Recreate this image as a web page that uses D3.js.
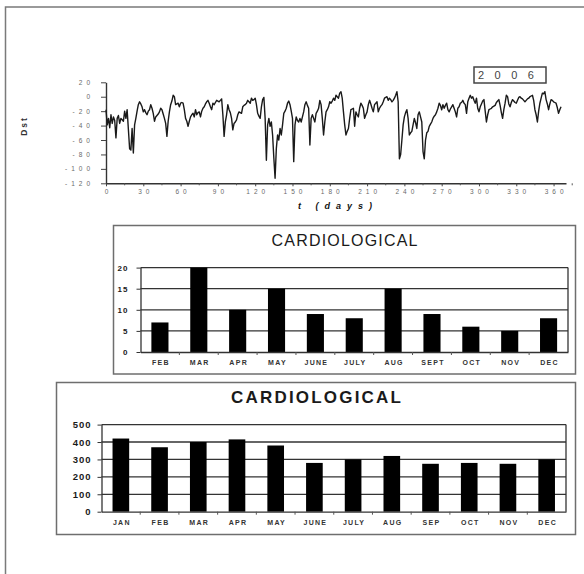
<!DOCTYPE html>
<html>
<head>
<meta charset="utf-8">
<script src="https://cdn.jsdelivr.net/npm/d3@7"></script>
<style>
body { margin: 0; background: #fff; }
svg { display: block; font-family: "Liberation Sans", Arial, sans-serif; }
</style>
</head>
<body>
<div id="chart"></div>
<script>
"use strict";

// daily Dst values for 2006, index = day
const dstValues = [
  -18,-39,-30,-43,-25,-37,-28,-33,-57,-30,
  -26,-37,-30,-32,-34,-20,-30,-18,-45,-72,
  -74,-44,-78,-39,-30,-20,-11,-7,-10,-14,
  -21,-18,-22,-25,-20,-18,-11,-16,-23,-34,
  -28,-26,-24,-21,-16,-18,-24,-30,-37,-55,
  -34,-21,-11,-6,2,0,-11,-10,-9,-14,
  -9,-8,-9,-18,-30,-34,-41,-34,-28,-25,
  -23,-28,-18,-25,-22,-21,-28,-20,-16,-14,
  -10,-7,-5,-9,-14,-18,-9,-11,-8,-5,
  -6,-7,-5,-3,-25,-55,-35,-25,-11,-18,
  -22,-30,-46,-37,-35,-32,-25,-21,-22,-23,
  -14,-12,-11,-9,-5,-7,-9,-2,-5,-4,
  -2,-11,-23,-27,-30,-14,-4,-1,-30,-88,
  -39,-30,-41,-35,-53,-85,-113,-72,-53,-60,
  -44,-53,-39,-23,-20,-16,-9,-6,-11,-20,
  -30,-90,-39,-28,-33,-35,-30,-35,-28,-21,
  -11,-7,-12,-16,-67,-30,-25,-30,-35,-23,
  -20,-16,-5,-11,-30,-53,-35,-21,-18,-14,
  -7,-9,-6,-2,-5,2,0,-2,5,7,
  -2,-21,-39,-53,-48,-44,-30,-18,-17,-16,
  -41,-21,-25,-28,-16,-9,-12,-16,-30,-25,
  -21,-11,-5,-10,-16,-21,-11,-9,-7,-21,
  -16,-13,-11,-7,-2,-1,0,-5,-2,-4,
  -7,-5,-2,2,7,-7,-86,-80,-60,-39,
  -28,-22,-18,-30,-53,-50,-48,-39,-30,-36,
  -44,-25,-21,-28,-35,-76,-86,-60,-50,-48,
  -41,-38,-35,-30,-27,-25,-21,-16,-9,-12,
  -18,-11,-16,-12,-9,-18,-21,-17,-14,-11,
  -16,-21,-28,-16,-14,-9,-8,-5,-9,-11,
  -23,-7,-2,2,-2,0,-5,-9,-2,-16,
  -21,-14,-10,-6,-4,-20,-35,-25,-18,-17,
  -16,-14,-13,-12,-8,-6,-4,-12,-22,-30,
  -18,-9,2,0,-10,-14,-8,-4,-6,-8,
  -9,-5,-1,0,-2,-3,-5,-7,-5,-3,
  -2,0,1,2,-5,-18,-25,-35,-20,-9,
  -2,5,4,7,-4,-10,-18,-10,-4,-5,
  -7,-8,-9,-15,-23,-18,-14
];
const dstXTicks = [0, 30, 60, 90, 120, 150, 180, 210, 240, 270, 300, 330, 360];
const dstYTicks = [20, 0, -20, -40, -60, -80, -100, -120];
const yearLabel = "2006";

const midMonths = ["FEB", "MAR", "APR", "MAY", "JUNE", "JULY", "AUG", "SEPT", "OCT", "NOV", "DEC"];
const midCases = [7, 20, 10, 15, 9, 8, 15, 9, 6, 5, 8];
const midTicks = [0, 5, 10, 15, 20];

const lowMonths = ["JAN", "FEB", "MAR", "APR", "MAY", "JUNE", "JULY", "AUG", "SEP", "OCT", "NOV", "DEC"];
const lowCases = [420, 370, 400, 415, 380, 280, 300, 320, 275, 280, 275, 300];
const lowTicks = [0, 100, 200, 300, 400, 500];

const W = 584, H = 574;
var svg = d3.select("#chart").append("svg").attr("width", W).attr("height", H);

// page frame
svg.append("rect").attr("x", 5.5).attr("y", 7).attr("width", 620).attr("height", 620)
  .attr("fill", "none").attr("stroke", "#7a7a7a").attr("stroke-width", 1.5);

// ---------- top: Dst line ----------
var dx = d3.scaleLinear().domain([0, 370]).range([106, 566]);
var dy = d3.scaleLinear().domain([-120, 20]).range([183.3, 82.3]);

var topG = svg.append("g");

var xAx = topG.append("g").attr("transform", "translate(0," + dy(-120) + ")")
  .call(d3.axisBottom(dx).tickValues(dstXTicks).tickSize(3).tickSizeOuter(0).tickPadding(3)
    .tickFormat(d => String(d)));
// minor ticks in between
topG.append("g").selectAll("line").data(dstXTicks.map(d => d + 15))
  .join("line")
  .attr("x1", d => dx(d)).attr("x2", d => dx(d))
  .attr("y1", dy(-120)).attr("y2", dy(-120) + 2)
  .attr("stroke", "#555");

var yAx = topG.append("g").attr("transform", "translate(" + dx(0) + ",0)")
  .call(d3.axisLeft(dy).tickValues(dstYTicks).tickSize(5).tickSizeOuter(0).tickPadding(7)
    .tickFormat(d => String(d)));

[xAx, yAx].forEach(function(g) {
  g.select(".domain").attr("stroke", "#333").attr("stroke-width", 1.4);
  g.selectAll(".tick line").attr("stroke", "#444");
  g.selectAll("text").attr("font-size", 6.5).attr("fill", "#6a6a6a")
    .attr("letter-spacing", "4px").attr("font-family", "'Liberation Sans', Arial, sans-serif");
});
xAx.selectAll("text").attr("dx", 2);

topG.append("path")
  .datum(dstValues)
  .attr("fill", "none")
  .attr("stroke", "#1a1a1a")
  .attr("stroke-width", 1.4)
  .attr("stroke-linejoin", "round")
  .attr("d", d3.line().x((d, i) => dx(i)).y(d => dy(d)));

topG.append("text")
  .attr("transform", "translate(26.5,126) rotate(-90)")
  .attr("text-anchor", "middle")
  .attr("font-size", 8.5).attr("font-weight", "bold")
  .attr("letter-spacing", "2px").attr("fill", "#333")
  .text("Dst");

topG.append("text")
  .attr("x", 338).attr("y", 209)
  .attr("text-anchor", "middle")
  .attr("font-size", 9).attr("font-weight", "bold").attr("font-style", "italic")
  .attr("letter-spacing", "6px").attr("fill", "#111")
  .text("t (days)");

topG.append("rect").attr("x", 474).attr("y", 67).attr("width", 72).attr("height", 16)
  .attr("fill", "#fff").attr("stroke", "#444").attr("stroke-width", 1.5);
topG.append("text").attr("x", 478).attr("y", 79)
  .attr("font-size", 11).attr("letter-spacing", "10.5px").attr("fill", "#444")
  .text(yearLabel);

// ---------- bar panels ----------
function barPanel(opt) {
  var g = svg.append("g");
  g.append("rect")
    .attr("x", opt.box[0]).attr("y", opt.box[1])
    .attr("width", opt.box[2] - opt.box[0]).attr("height", opt.box[3] - opt.box[1])
    .attr("fill", "#fff").attr("stroke", "#6e6e6e").attr("stroke-width", 1.5);

  var cx = (opt.box[0] + opt.box[2]) / 2;
  g.append("text")
    .attr("x", cx + opt.titleLs / 2).attr("y", opt.titleY)
    .attr("text-anchor", "middle")
    .attr("font-size", opt.titleSize).attr("font-weight", opt.titleWeight)
    .attr("letter-spacing", opt.titleLs + "px").attr("fill", "#1a1a1a")
    .text("CARDIOLOGICAL");

  var x = d3.scaleBand().domain(opt.cats).range([opt.left, opt.right])
    .paddingInner(opt.pad).paddingOuter(opt.pad / 2);
  var y = d3.scaleLinear().domain([0, opt.max]).range([opt.bottom, opt.top]);

  // horizontal grid
  g.append("g").selectAll("line").data(opt.ticks.filter(d => d > 0))
    .join("line")
    .attr("x1", opt.left).attr("x2", opt.right)
    .attr("y1", d => y(d)).attr("y2", d => y(d))
    .attr("stroke", "#333").attr("stroke-width", 1.3);
  g.append("line")
    .attr("x1", opt.right).attr("x2", opt.right)
    .attr("y1", y(opt.max)).attr("y2", y(0))
    .attr("stroke", "#333").attr("stroke-width", 1.3);

  g.append("g").selectAll("rect").data(opt.vals)
    .join("rect")
    .attr("x", (d, i) => x(opt.cats[i]))
    .attr("y", d => y(d))
    .attr("width", x.bandwidth())
    .attr("height", d => y(0) - y(d))
    .attr("fill", "#000");

  var ya = g.append("g").attr("transform", "translate(" + opt.left + ",0)")
    .call(d3.axisLeft(y).tickValues(opt.ticks).tickSize(4).tickSizeOuter(0).tickPadding(opt.yPad));
  ya.select(".domain").attr("stroke", "#333").attr("stroke-width", 1.3);
  ya.selectAll(".tick line").attr("stroke", "#333");
  ya.selectAll("text").attr("font-size", opt.ySize).attr("font-weight", "bold")
    .attr("letter-spacing", "1px").attr("fill", "#1a1a1a")
    .attr("font-family", "'Liberation Sans', Arial, sans-serif");

  var xa = g.append("g").attr("transform", "translate(0," + opt.bottom + ")")
    .call(d3.axisBottom(x).tickSize(0).tickPadding(opt.xPad));
  xa.select(".domain").attr("stroke", "#333").attr("stroke-width", 1.3);
  xa.selectAll("text").attr("font-size", 7).attr("font-weight", "bold")
    .attr("letter-spacing", "1.3px").attr("fill", "#333").attr("dx", 1)
    .attr("font-family", "'Liberation Sans', Arial, sans-serif");
  // small ticks between the months
  g.append("g").selectAll("line").data(opt.cats.slice(1))
    .join("line")
    .attr("x1", d => x(d) - x.step() * opt.pad / 2).attr("x2", d => x(d) - x.step() * opt.pad / 2)
    .attr("y1", opt.bottom).attr("y2", opt.bottom + 3)
    .attr("stroke", "#555");
}

barPanel({
  box: [113.5, 225.5, 575.5, 374],
  titleY: 245.5, titleSize: 16, titleWeight: "normal", titleLs: 1.2,
  cats: midMonths, vals: midCases, ticks: midTicks, max: 20,
  left: 140.5, right: 568, top: 267.6, bottom: 352,
  pad: 0.56, ySize: 8, yPad: 8, xPad: 8
});

barPanel({
  box: [56.5, 382.5, 575.5, 534.5],
  titleY: 402.5, titleSize: 17, titleWeight: "bold", titleLs: 2.2,
  cats: lowMonths, vals: lowCases, ticks: lowTicks, max: 500,
  left: 101.5, right: 566, top: 424.6, bottom: 511.7,
  pad: 0.57, ySize: 9.5, yPad: 6, xPad: 8
});
</script>
</body>
</html>
